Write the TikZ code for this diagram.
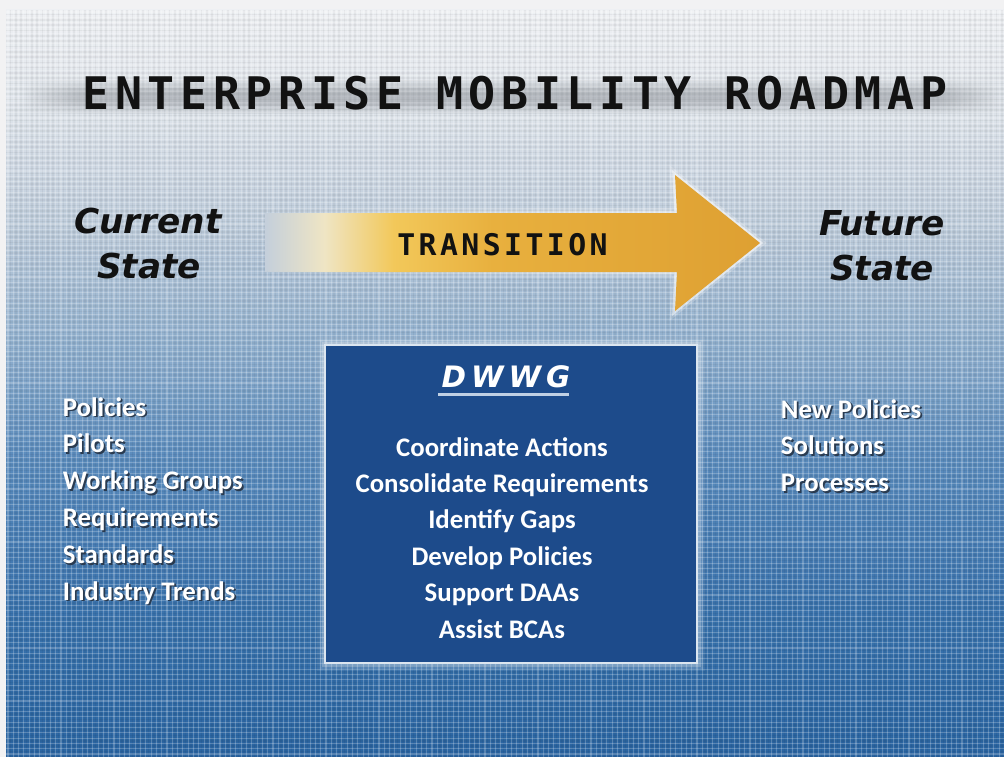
\documentclass[tikz,border=0pt]{standalone}
\usepackage{fontspec}
\setmainfont{DejaVu Sans}
\newfontfamily\ttlfont{DejaVu Sans Mono}[LetterSpace=12.5]
\newfontfamily\trfont{DejaVu Sans Mono}[LetterSpace=11.5]
\newfontfamily\stfont{DejaVu Sans}
\newfontfamily\dwfont{DejaVu Sans}[LetterSpace=17]
\newfontfamily\lstfont{Carlito}
\usetikzlibrary{fadings}

\definecolor{frame}{HTML}{F2F2F3}
\definecolor{bg0}{HTML}{2A65A2}
\definecolor{bg1}{HTML}{3A73AD}
\definecolor{bg2}{HTML}{5A8BBD}
\definecolor{bg3}{HTML}{8CADCD}
\definecolor{bg4}{HTML}{BBCADA}
\definecolor{bg5}{HTML}{DDE3EA}
\definecolor{bg6}{HTML}{EEF0F3}
\definecolor{ar0}{HTML}{C4CFDB}
\definecolor{ar1}{HTML}{EFE5C4}
\definecolor{ar2}{HTML}{F2C85A}
\definecolor{ar3}{HTML}{E8B03E}
\definecolor{ar4}{HTML}{DEA032}
\definecolor{boxblue}{HTML}{1D4B8B}
\definecolor{boxedge}{HTML}{DCE6F0}
\definecolor{uline}{HTML}{C0D0E4}
\definecolor{inkdark}{HTML}{121212}
\definecolor{shadowc}{HTML}{2A3B50}
\definecolor{streak}{HTML}{7A7E84}

\pgfdeclareverticalshading{bgsh}{100bp}{color(0bp)=(bg0); color(25bp)=(bg0); color(35bp)=(bg1); color(45bp)=(bg2); color(52bp)=(bg3); color(60bp)=(bg4); color(68bp)=(bg5); color(75bp)=(bg6); color(100bp)=(bg6)}
\pgfdeclarehorizontalshading{arrsh}{100bp}{color(0bp)=(ar0); color(25bp)=(ar0); color(31bp)=(ar1); color(38bp)=(ar2); color(48bp)=(ar3); color(75bp)=(ar4); color(100bp)=(ar4)}

\tikzset{
  gridline/.style={white, opacity=0.22, line width=1.1pt},
  gridshade/.style={black, opacity=0.045, line width=1.6pt},
  ttl/.style={font=\ttlfont\bfseries\fontsize{44.9}{50}\selectfont, text=inkdark, inner sep=0pt, anchor=base},
  trans/.style={font=\trfont\bfseries\fontsize{29.8}{34}\selectfont, text=inkdark, inner sep=0pt, anchor=base},
  state/.style={font=\stfont\bfseries\itshape\fontsize{34.3}{38}\selectfont, text=inkdark, inner sep=0pt, anchor=base},
  dwtitle/.style={font=\dwfont\bfseries\itshape\fontsize{29.5}{33}\selectfont, text=white, inner sep=0pt, anchor=base},
  item/.style={font=\lstfont\bfseries\fontsize{26.8}{30}\selectfont, text=white, inner sep=0pt},
  dwbox/.style={draw=boxedge, line width=2.5pt, fill=boxblue, minimum width=372pt, minimum height=318pt, inner sep=0pt,
    preaction={draw=white, line width=16pt, opacity=0.07},
    preaction={draw=white, line width=11pt, opacity=0.12},
    preaction={draw=white, line width=7pt, opacity=0.22}},
}

% white text with a dark drop shadow, set in one box
\newcommand\shtext[1]{\rlap{\kern1.8pt\raisebox{-1.8pt}{\textcolor{shadowc}{#1}}}#1}

\begin{document}
\begin{tikzpicture}[x=1pt,y=-1pt]
\useasboundingbox (0,0) rectangle (1004,757);
\fill[frame] (0,0) rectangle (1004,757);
\shade[shading=bgsh] (6,10) rectangle (1004,757);

% grid texture
\begin{scope}
\clip (6,10) rectangle (1004,757);
\foreach \x in {10.65,15.95,...,1004} \draw[gridshade] (\x,10) -- (\x,757);
\foreach \y in {14.65,19.95,...,757} \draw[gridshade] (6,\y) -- (1004,\y);
\foreach \x in {8,13.3,...,1004} \draw[gridline] (\x,10) -- (\x,757);
\foreach \y in {12,17.3,...,757} \draw[gridline] (6,\y) -- (1004,\y);
\end{scope}

% title motion streaks (soft grey band, fading out at both ends)
\foreach \ya/\yb/\o in {80/114/0.10, 84/110/0.12, 88/106/0.14, 92/102/0.12} {
  \fill[streak, opacity=\o, path fading=west] (22,\ya) rectangle (90,\yb);
  \fill[streak, opacity=\o] (90,\ya) rectangle (940,\yb);
  \fill[streak, opacity=\o, path fading=east] (940,\ya) rectangle (1004,\yb);
}
\node[ttl] (title) at (515,110) {ENTERPRISE MOBILITY ROADMAP};

% transition arrow
\draw[white, opacity=0.25, line width=9pt, line join=miter, path fading=west]
  (265,213) -- (677,213) -- (675,175) -- (760,243) -- (675,311) -- (677,272) -- (265,272);
\draw[white, opacity=0.55, line width=4.5pt, line join=miter, path fading=west]
  (265,213) -- (677,213) -- (675,175) -- (760,243) -- (675,311) -- (677,272) -- (265,272);
\shade[shading=arrsh]
  (265,213) -- (677,213) -- (675,175) -- (760,243) -- (675,311) -- (677,272) -- (265,272) -- cycle;
\node[trans] (transition) at (502.5,255) {TRANSITION};

% current / future state
\node[state] (cur1) at (148,233) {Current};
\node[state] (cur2) at (149,278) {State};
\node[state] (fut1) at (882,235) {Future};
\node[state] (fut2) at (882,280) {State};

% DWWG box
\node[dwbox] (dwwg) at (511,504) {};
\node[dwtitle] (dwtitle) at (506,387) {DWWG};
\draw[uline, line width=2.5pt] (438,394.5) -- (569,394.5);
\foreach \t [count=\i from 0] in {Coordinate Actions, Consolidate Requirements, Identify Gaps, Develop Policies, Support DAAs, Assist BCAs}
  \node[item, anchor=base] (dw\i) at (502,456+36.4*\i) {\t};

% left list
\foreach \t [count=\i from 0] in {Policies, Pilots, Working Groups, Requirements, Standards, Industry Trends}
  \node[item, anchor=base west] (l\i) at (62.7,416+36.8*\i) {\shtext{\t}};

% right list
\foreach \t [count=\i from 0] in {New Policies, Solutions, Processes}
  \node[item, anchor=base west] (r\i) at (780.7,418+36.8*\i) {\shtext{\t}};
\end{tikzpicture}
\end{document}
